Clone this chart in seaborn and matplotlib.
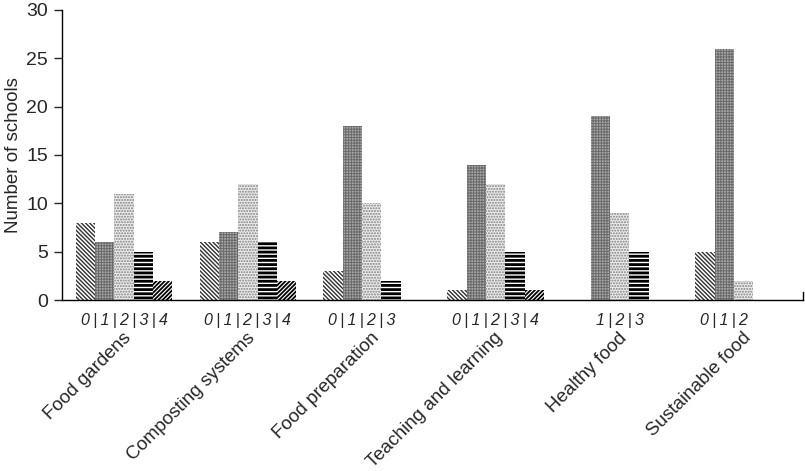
import matplotlib
matplotlib.use("Agg")
import matplotlib.pyplot as plt
import seaborn as sns
import pandas as pd

# ---- data ----
categories = ["Food gardens", "Composting systems", "Food preparation",
              "Teaching and learning", "Healthy food", "Sustainable food"]
levels = ["0", "1", "2", "3", "4"]
food_gardens = [8, 6, 11, 5, 2]
composting_systems = [6, 7, 12, 6, 2]
food_preparation = [3, 18, 10, 2, None]
teaching_and_learning = [1, 14, 12, 5, 1]
healthy_food = [None, 19, 9, 5, None]
sustainable_food = [5, 26, 2, None, None]
y_ticks = [0, 5, 10, 15, 20, 25, 30]

series = [food_gardens, composting_systems, food_preparation,
          teaching_and_learning, healthy_food, sustainable_food]
rows = []
for cat, vals in zip(categories, series):
    for lev, v in zip(levels, vals):
        if v is not None:
            rows.append({"category": cat, "level": lev, "count": v})
df = pd.DataFrame(rows)

# ---- style ----
sns.set_style("white")
plt.rcParams["font.family"] = ["Liberation Sans", "DejaVu Sans"]
plt.rcParams["hatch.linewidth"] = 1.1

face = {"0": "#ffffff", "1": "#a8a8a8", "2": "#ededed", "3": "#ffffff", "4": "#ffffff"}
hatch = {"0": "\\\\\\\\\\\\\\\\", "1": "++++++", "2": "......", "3": "----", "4": "////////"}
hcol = {"0": "#303030", "1": "#6a6a6a", "2": "#808080", "3": "#000000", "4": "#000000"}
hlw = {"0": 1.0, "1": 0.7, "2": 1.0, "3": 2.0, "4": 1.3}

fig = plt.figure(figsize=(8.05, 4.71), dpi=100)
ax = fig.add_axes([0.077, 0.363, 0.9205, 0.616])

sns.barplot(data=df, x="category", y="count", hue="level", order=categories,
            hue_order=levels, palette=face, dodge=True, width=0.78,
            saturation=1, legend=False, errorbar=None, ax=ax)

for lev, cont in zip(levels, ax.containers):
    for p in cont:
        p.set_hatch(hatch[lev])
        p.set_edgecolor(hcol[lev])
        p.set_linewidth(0)
        if hasattr(p, "set_hatch_linewidth"):
            p.set_hatch_linewidth(hlw[lev])

ax.set_ylim(0, 30)
ax.set_xlim(-0.5, 5.48)
ax.set_yticks(y_ticks)
ax.set_xticks([])
ax.set_xlabel("")
ax.set_ylabel("Number of schools", fontsize=13.5)
ax.yaxis.set_label_coords(-0.054, 0.5)
ax.tick_params(axis="y", direction="out", length=6, width=1, labelsize=14,
               left=True, pad=4)
ax.spines["top"].set_visible(False)
ax.spines["right"].set_visible(True)
ax.spines["right"].set_bounds(0, 0.8)
for s in ["left", "bottom", "right"]:
    ax.spines[s].set_color("black")
    ax.spines[s].set_linewidth(1.0)

# group labels under the bars
for i, (cat, vals) in enumerate(zip(categories, series)):
    xs = []
    labs = []
    for lev, cont in zip(levels, ax.containers):
        for p in cont:
            cx = p.get_x() + p.get_width() / 2
            if abs(cx - i) < 0.5 and p.get_height() > 0:
                xs.append((p.get_x(), p.get_x() + p.get_width()))
                labs.append(lev)
    left = min(a for a, b in xs)
    right = max(b for a, b in xs)
    center = (left + right) / 2
    ax.annotate("\u2009|\u2009".join(labs), xy=(center, 0),
                xycoords=("data", "axes fraction"), xytext=(0, -14.5),
                textcoords="offset points", ha="center", va="center",
                fontsize=11.5, style="italic", annotation_clip=False)
    ax.annotate(cat, xy=(i, 0), xycoords=("data", "axes fraction"),
                xytext=(-1, -21), textcoords="offset points",
                ha="right", va="top", rotation=45, rotation_mode="anchor",
                fontsize=13.5, annotation_clip=False)

fig.savefig("out.png", dpi=100)
